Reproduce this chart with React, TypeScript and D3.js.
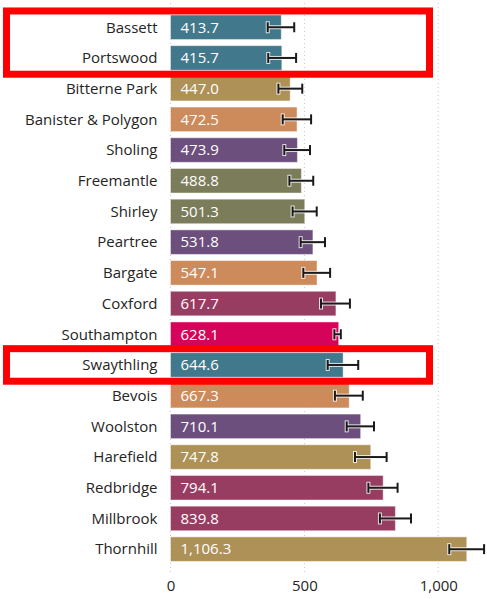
import { useEffect, useRef } from "react";
import * as d3 from "d3";

const WARDS = [
  "Bassett", "Portswood", "Bitterne Park", "Banister & Polygon", "Sholing",
  "Freemantle", "Shirley", "Peartree", "Bargate", "Coxford", "Southampton",
  "Swaythling", "Bevois", "Woolston", "Harefield", "Redbridge", "Millbrook", "Thornhill",
];
const VALUES = [
  413.7, 415.7, 447.0, 472.5, 473.9, 488.8, 501.3, 531.8, 547.1, 617.7, 628.1,
  644.6, 667.3, 710.1, 747.8, 794.1, 839.8, 1106.3,
];
const LOWER = [
  363, 365, 403, 419, 425, 444, 456, 486, 496, 562, 612, 587, 614, 658, 689, 739, 782, 1041,
];
const UPPER = [
  462, 469, 492, 525, 521, 533, 546, 577, 596, 670, 636, 701, 718, 760, 807, 848, 898, 1171,
];
const BAR_COLORS = [
  "#41788B", "#41788B", "#AE9156", "#CD8A5B", "#6C4F7D", "#7A7C5A", "#7A7C5A",
  "#6C4F7D", "#CD8A5B", "#983D62", "#D6035A", "#41788B", "#CD8A5B", "#6C4F7D",
  "#AE9156", "#983D62", "#983D62", "#AE9156",
];
const X_TICKS = [0, 500, 1000];
// groups of wards outlined in red
const HIGHLIGHTS = [["Bassett", "Portswood"], ["Swaythling"]];

const FONT = "'Open Sans', 'Noto Sans', sans-serif";

export default function App() {
  const svgRef = useRef<SVGSVGElement>(null);

  useEffect(() => {
    if (!svgRef.current) return;
    const width = 487;
    const height = 599;
    const svg = d3.select(svgRef.current);
    svg.selectAll("*").remove();

    const x = d3.scaleLinear().domain([0, 1180]).range([170.5, 486.5]);
    const y = d3.scaleBand<string>().domain(WARDS).range([11.9, 564.5])
      .paddingInner(0.2).paddingOuter(0.1);
    const bw = y.bandwidth();

    // dotted grid lines
    svg.append("g")
      .selectAll("line")
      .data(X_TICKS)
      .join("line")
      .attr("x1", (d) => x(d)).attr("x2", (d) => x(d))
      .attr("y1", 3).attr("y2", 574)
      .attr("stroke", "#c8c8c8").attr("stroke-width", 1)
      .attr("stroke-dasharray", "1 3");

    const rows = svg.append("g")
      .selectAll("g")
      .data(WARDS)
      .join("g");

    rows.append("rect")
      .attr("x", x(0))
      .attr("y", (d) => y(d)!)
      .attr("width", (_, i) => x(VALUES[i]) - x(0))
      .attr("height", bw)
      .attr("fill", (_, i) => BAR_COLORS[i])
      .attr("stroke", "rgba(255,255,255,0.45)")
      .attr("stroke-width", 1);

    rows.append("text")
      .attr("x", x(0) - 13)
      .attr("y", (d) => y(d)! + bw / 2)
      .attr("dy", "0.35em")
      .attr("text-anchor", "end")
      .attr("fill", "#252423")
      .attr("font-family", FONT)
      .attr("font-size", "15px")
      .text((d) => d);

    rows.append("text")
      .attr("x", x(0) + 10)
      .attr("y", (d) => y(d)! + bw / 2)
      .attr("dy", "0.35em")
      .attr("fill", "#ffffff")
      .attr("font-family", FONT)
      .attr("font-size", "15px")
      .text((_, i) => d3.format(",.1f")(VALUES[i]));

    // error bars: white halo, then black
    const drawErr = (color: string, w: number, capH: number) => {
      rows.append("line")
        .attr("x1", (_, i) => x(LOWER[i])).attr("x2", (_, i) => x(UPPER[i]))
        .attr("y1", (d) => y(d)! + bw / 2).attr("y2", (d) => y(d)! + bw / 2)
        .attr("stroke", color).attr("stroke-width", w);
      [LOWER, UPPER].forEach((arr) => {
        rows.append("line")
          .attr("x1", (_, i) => x(arr[i])).attr("x2", (_, i) => x(arr[i]))
          .attr("y1", (d) => y(d)! + bw / 2 - capH / 2)
          .attr("y2", (d) => y(d)! + bw / 2 + capH / 2)
          .attr("stroke", color).attr("stroke-width", w);
      });
    };
    drawErr("rgba(255,255,255,0.8)", 4, 12);
    drawErr("#1a1a1a", 2, 10);

    // x axis
    const axis = svg.append("g")
      .attr("transform", `translate(0,${580})`)
      .call(d3.axisBottom(x).tickValues(X_TICKS).tickFormat(d3.format(",")).tickSize(0));
    axis.select(".domain").remove();
    axis.selectAll("text")
      .attr("fill", "#252423")
      .attr("font-family", FONT)
      .attr("font-size", "15px")
      .attr("dy", "0.55em");

    // red highlight boxes
    HIGHLIGHTS.forEach((grp) => {
      const top = y(grp[0])! - 4;
      const bottom = y(grp[grp.length - 1])! + bw + 4;
      svg.append("rect")
        .attr("x", 6.5)
        .attr("y", top)
        .attr("width", 423)
        .attr("height", bottom - top)
        .attr("fill", "none")
        .attr("stroke", "#FF0000")
        .attr("stroke-width", 7);
    });

    svg.attr("width", width).attr("height", height);
  }, []);

  return (
    <svg
      ref={svgRef}
      width={487}
      height={599}
      style={{ position: "absolute", left: 0, top: 0, background: "#fff" }}
    />
  );
}
